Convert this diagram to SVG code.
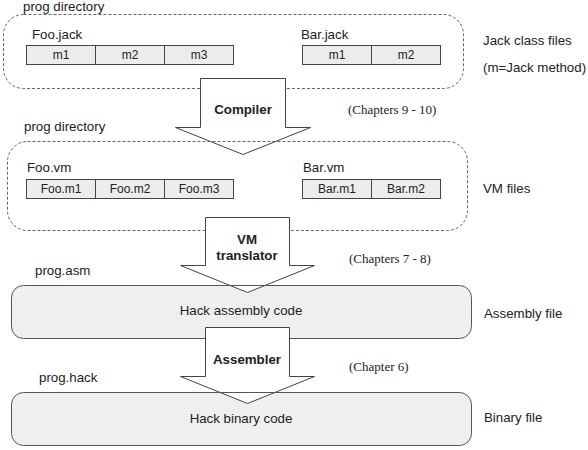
<svg xmlns="http://www.w3.org/2000/svg" width="588" height="450" viewBox="0 0 588 450">
<style>
text{font-family:"Liberation Sans",Arial,sans-serif;font-size:13.3px;fill:#222}
.cell{font-size:12px;text-anchor:middle}
.b{font-weight:bold;text-anchor:middle}
.ser{font-family:"Liberation Serif","Times New Roman",serif;font-size:13px}
.mid{text-anchor:middle}
.dash{fill:none;stroke:#666;stroke-width:1;stroke-dasharray:3,2}
.cellr{fill:#ececec;stroke:#444;stroke-width:1}
.box{fill:#efefef;stroke:#555;stroke-width:1}
.edge{fill:none;stroke:#555;stroke-width:1}
.arrow{fill:#fff;stroke:#444;stroke-width:1}
</style>
<rect width="588" height="450" fill="#fff"/>
<g id="jack-dir">
<rect class="dash" x="3.5" y="14.5" width="460" height="74" rx="20"/>
<text x="23" y="11">prog directory</text>
</g>
<g id="foo-jack">
<text x="32" y="38.5">Foo.jack</text>
<rect class="cellr" x="26.5" y="45.5" width="69" height="19"/>
<rect class="cellr" x="95.5" y="45.5" width="69" height="19"/>
<rect class="cellr" x="164.5" y="45.5" width="69" height="19"/>
<text class="cell" x="61" y="59">m1</text>
<text class="cell" x="130" y="59">m2</text>
<text class="cell" x="199" y="59">m3</text>
</g>
<g id="bar-jack">
<text x="301" y="38.5">Bar.jack</text>
<rect class="cellr" x="302.5" y="45.5" width="69" height="19"/>
<rect class="cellr" x="371.5" y="45.5" width="69" height="19"/>
<text class="cell" x="337" y="59">m1</text>
<text class="cell" x="406" y="59">m2</text>
</g>
<text x="483" y="45">Jack class files</text>
<text x="483" y="72">(m=Jack method)</text>
<g id="asm">
<text x="35" y="275">prog.asm</text>
<rect class="box" x="11.5" y="285.5" width="460" height="53" rx="12"/>
<text class="mid" x="241" y="315">Hack assembly code</text>
</g>
<text x="484" y="318">Assembly file</text>
<g id="hack">
<text x="39" y="382">prog.hack</text>
<rect class="box" x="11.5" y="392.5" width="460" height="53" rx="12"/>
<text class="mid" x="241" y="422.5">Hack binary code</text>
</g>
<text x="484" y="422">Binary file</text>
<g id="connectors">
<g id="compiler">
<path class="arrow" d="M200.5,78.5 L285.5,78.5 L285.5,127.5 L310.5,127.5 L243,154.5 L175.5,127.5 L200.5,127.5 Z"/>
<text class="b" x="243" y="114">Compiler</text>
</g>
<g id="vm-translator">
<path class="arrow" d="M205.5,217.5 L289.5,217.5 L289.5,265.5 L314.5,265.5 L247.5,292.5 L180.5,265.5 L205.5,265.5 Z"/>
<text class="b" x="247" y="244">VM</text>
<text class="b" x="247" y="260">translator</text>
</g>
<g id="assembler">
<path class="arrow" d="M205.5,327.5 L289.5,327.5 L289.5,376.5 L314.5,376.5 L247.5,403.5 L180.5,376.5 L205.5,376.5 Z"/>
<text class="b" x="247" y="364">Assembler</text>
</g>
</g>
<g id="vm-dir">
<path class="dash" d="M27.5,141.5 H447.5 A20,20 0 0 1 467.5,161.5 V210.5 A20,20 0 0 1 447.5,230.5 H289.5 M205.5,230.5 H27.5 A20,20 0 0 1 7.5,210.5 V161.5 A20,20 0 0 1 27.5,141.5"/>
<text x="24" y="131">prog directory</text>
</g>
<g id="foo-vm">
<text x="27" y="172">Foo.vm</text>
<rect class="cellr" x="26.5" y="179.5" width="69" height="19"/>
<rect class="cellr" x="95.5" y="179.5" width="69" height="19"/>
<rect class="cellr" x="164.5" y="179.5" width="69" height="19"/>
<text class="cell" x="61" y="193">Foo.m1</text>
<text class="cell" x="130" y="193">Foo.m2</text>
<text class="cell" x="199" y="193">Foo.m3</text>
</g>
<g id="bar-vm">
<text x="303" y="172">Bar.vm</text>
<rect class="cellr" x="302.5" y="179.5" width="69" height="19"/>
<rect class="cellr" x="371.5" y="179.5" width="69" height="19"/>
<text class="cell" x="337" y="193">Bar.m1</text>
<text class="cell" x="406" y="193">Bar.m2</text>
</g>
<text x="483" y="193">VM files</text>
<path class="edge" d="M180,285.5 H314"/>
<path class="edge" d="M180,392.5 H314"/>
<text class="ser" x="348" y="113.5">(Chapters 9 - 10)</text>
<text class="ser" x="349" y="262.5">(Chapters 7 - 8)</text>
<text class="ser" x="349" y="370.5">(Chapter 6)</text>
</svg>
